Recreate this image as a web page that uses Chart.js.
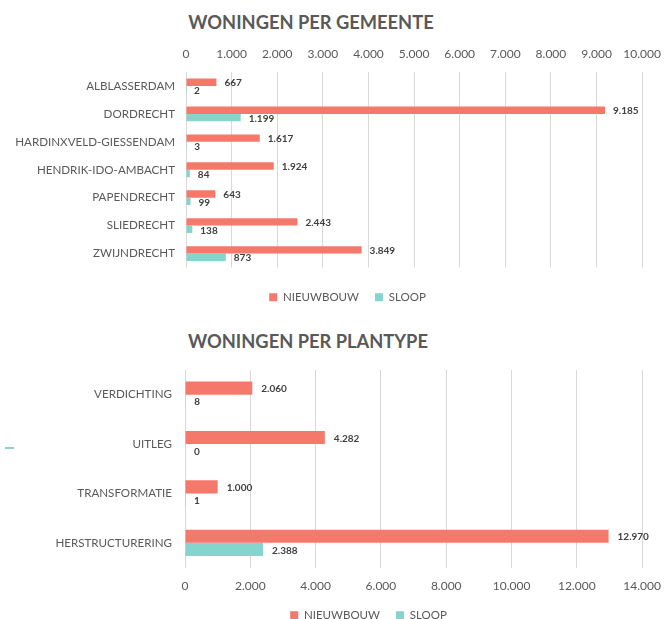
<!DOCTYPE html>
<html>
<head>
<meta charset="utf-8">
<script src="https://cdn.jsdelivr.net/npm/chart.js@4/dist/chart.umd.min.js"></script>
<style>
  html, body { margin: 0; padding: 0; background: #ffffff; width: 672px; height: 619px; overflow: hidden; }
  #wrap { position: relative; width: 672px; height: 619px; overflow: hidden; }
  canvas { position: absolute; left: 0; }
  .title { position: absolute; width: 400px; text-align: center; font-family: Lato, sans-serif; font-weight: bold; font-size: 18.3px; line-height: 24px; color: #595959; }
  .dash { position: absolute; left: 5px; top: 447px; width: 9px; height: 2px; background: #85D4CE; }
</style>
</head>
<body>
<div id="wrap">
  <div class="title" style="left:111px; top:10px;">WONINGEN PER GEMEENTE</div>
  <canvas id="c1" width="672" height="313" style="top:0px"></canvas>
  <div class="title" style="left:108px; top:329px;">WONINGEN PER PLANTYPE</div>
  <canvas id="c2" width="672" height="318" style="top:313px"></canvas>
  <div class="dash"></div>
</div>
<script>
// ---- data ----
const seriesNames = ['NIEUWBOUW', 'SLOOP'];

const gemeenten = ['ALBLASSERDAM', 'DORDRECHT', 'HARDINXVELD-GIESSENDAM', 'HENDRIK-IDO-AMBACHT', 'PAPENDRECHT', 'SLIEDRECHT', 'ZWIJNDRECHT'];
const gemeenteNieuwbouw = [667, 9185, 1617, 1924, 643, 2443, 3849];
const gemeenteSloop = [2, 1199, 3, 84, 99, 138, 873];
const gemeenteAxisMax = 10000;
const gemeenteAxisStep = 1000;

const plantypes = ['VERDICHTING', 'UITLEG', 'TRANSFORMATIE', 'HERSTRUCTURERING'];
const plantypeNieuwbouw = [2060, 4282, 1000, 12970];
const plantypeSloop = [8, 0, 1, 2388];
const plantypeAxisMax = 14000;
const plantypeAxisStep = 2000;

// ---- styling ----
const colNieuw = '#F4796B';
const colSloop = '#85D4CE';
const gridCol = '#D9D9D9';
const textCol = '#595959';
const FONT = 'Lato';

function fmt(v) {
  return String(Math.round(v)).replace(/\B(?=(\d{3})+(?!\d))/g, '.');
}

const valueLabels = {
  id: 'valueLabels',
  afterDatasetsDraw(chart, args, opts) {
    const ctx = chart.ctx;
    ctx.save();
    ctx.font = 'bold 10px ' + FONT;
    ctx.fillStyle = '#404040';
    ctx.textAlign = 'left';
    ctx.textBaseline = 'middle';
    chart.data.datasets.forEach((ds, i) => {
      const meta = chart.getDatasetMeta(i);
      meta.data.forEach((el, j) => {
        ctx.fillText(fmt(ds.data[j]), el.x + (opts.offset || 8), el.y + 1);
      });
    });
    ctx.restore();
  }
};

const legendShift = {
  id: 'legendShift',
  afterLayout(chart, args, opts) {
    const l = chart.legend;
    if (l && opts.dx) { l.left += opts.dx; l.right += opts.dx; }
  }
};

function makeChart(id, labels, nieuw, sloop, max, step, cfg) {
  const scales = {
    x: {
      position: cfg.xPos,
      min: 0, max: max,
      ticks: {
        stepSize: step, autoSkip: false, maxRotation: 0,
        padding: 11, color: textCol,
        font: { family: FONT, size: 12 },
        callback: v => fmt(v)
      },
      grid: { color: gridCol, lineWidth: 1, drawTicks: false },
      border: { display: false },
      afterFit: s => { s.height = 26; }
    },
    y: {
      ticks: { padding: cfg.yPad, color: textCol, font: { family: FONT, size: 11.6 } },
      grid: { display: false, drawTicks: false },
      border: { display: false },
      afterFit: s => { s.width = cfg.yWidth; }
    }
  };
  if (cfg.spacer) {
    scales.x2 = {
      type: 'linear', axis: 'x', position: 'bottom', display: true,
      ticks: { display: false }, grid: { display: false, drawTicks: false }, border: { display: false },
      afterFit: s => { s.height = cfg.spacer; }
    };
  }
  return new Chart(document.getElementById(id), {
    type: 'bar',
    data: {
      labels: labels,
      datasets: [
        { label: seriesNames[0], data: nieuw, backgroundColor: colNieuw, barPercentage: 1, categoryPercentage: 0.53 },
        { label: seriesNames[1], data: sloop, backgroundColor: colSloop, barPercentage: 1, categoryPercentage: 0.53 }
      ]
    },
    options: {
      indexAxis: 'y',
      responsive: false,
      animation: false,
      layout: { padding: cfg.padding },
      scales: scales,
      plugins: {
        legend: {
          position: 'bottom',
          labels: { boxWidth: 8, boxHeight: 8, padding: 16, color: textCol, font: { family: FONT, size: 11.5 } }
        },
        title: { display: false },
        tooltip: { enabled: false },
        valueLabels: { offset: cfg.labelOffset },
        legendShift: { dx: cfg.legendDx }
      }
    },
    plugins: [valueLabels, legendShift]
  });
}

makeChart('c1', gemeenten, gemeenteNieuwbouw, gemeenteSloop, gemeenteAxisMax, gemeenteAxisStep, {
  xPos: 'top', yPad: 11, yWidth: 186, spacer: 8, labelOffset: 8, legendDx: 22,
  padding: { top: 46, left: 0, right: 21, bottom: 0 }
});

makeChart('c2', plantypes, plantypeNieuwbouw, plantypeSloop, plantypeAxisMax, plantypeAxisStep, {
  xPos: 'bottom', yPad: 13, yWidth: 185, spacer: 0, labelOffset: 9, legendDx: 44,
  padding: { top: 57, left: 0, right: 23, bottom: 0 }
});
</script>
</body>
</html>
